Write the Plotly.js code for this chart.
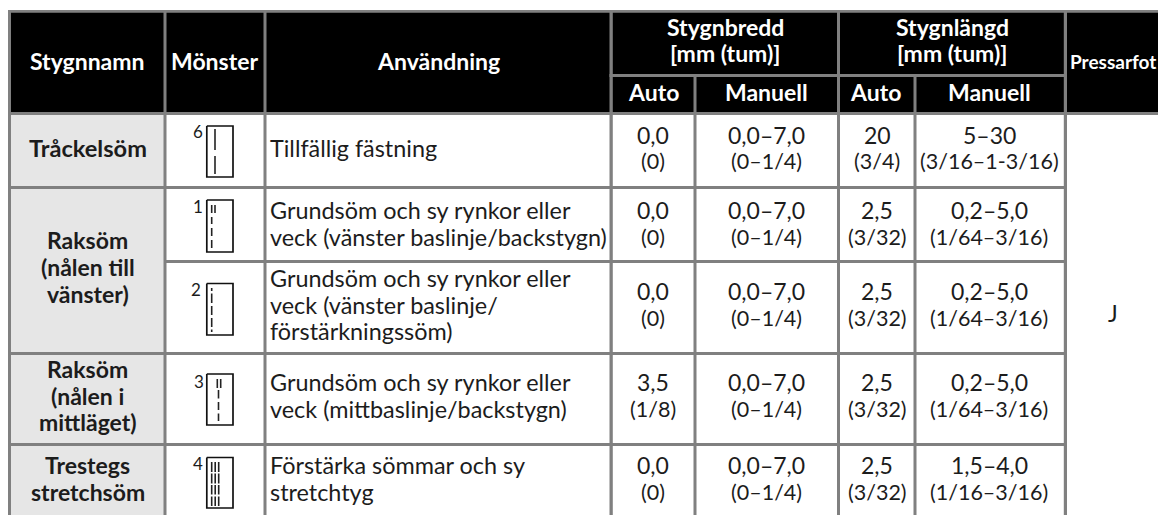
<!DOCTYPE html>
<html><head><meta charset="utf-8">
<script src="https://cdn.plot.ly/plotly-3.0.1.min.js"></script>
<style>html,body{margin:0;padding:0;background:#fff}#c{width:1158px;height:515px}</style>
</head><body><div id="c"></div>
<script>
// ---- table content ----
const headMain = ["Stygnnamn","Mönster","Användning"];
const headWidth = "Stygnbredd\n[mm (tum)]";
const headLength = "Stygnlängd\n[mm (tum)]";
const headSub = ["Auto","Manuell","Auto","Manuell"];
const headFoot = "Pressarfot";
const stitchNames = ["Tråckelsöm","Raksöm\n(nålen till\nvänster)","Raksöm\n(nålen i\nmittläget)","Trestegs\nstretchsöm"];
const patternNums = ["6","1","2","3","4"];
const uses = ["Tillfällig fästning",
 "Grundsöm och sy rynkor eller\nveck (vänster baslinje/backstygn)",
 "Grundsöm och sy rynkor eller\nveck (vänster baslinje/\nförstärkningssöm)",
 "Grundsöm och sy rynkor eller\nveck (mittbaslinje/backstygn)",
 "Förstärka sömmar och sy\nstretchtyg"];
const widthAuto = ["0,0\n(0)","0,0\n(0)","0,0\n(0)","3,5\n(1/8)","0,0\n(0)"];
const widthManual = ["0,0–7,0\n(0–1/4)","0,0–7,0\n(0–1/4)","0,0–7,0\n(0–1/4)","0,0–7,0\n(0–1/4)","0,0–7,0\n(0–1/4)"];
const lengthAuto = ["20\n(3/4)","2,5\n(3/32)","2,5\n(3/32)","2,5\n(3/32)","2,5\n(3/32)"];
const lengthManual = ["5–30\n(3/16–1-3/16)","0,2–5,0\n(1/64–3/16)","0,2–5,0\n(1/64–3/16)","0,2–5,0\n(1/64–3/16)","1,5–4,0\n(1/16–3/16)"];
const footLabel = "J";

// ---- pattern icons: stitch segments [x, y0, y1] in table units ----
const boxTops = [126,200,283.5,374,457.5];
const boxBottoms = [177,252,335,425,508];
const stitches = [
 [[215,129,150],[215,156,174]],
 [[211.7,205,213],[215,205,213],[211.7,217,224],[211.7,228,236],[211.7,240,248]],
 [[211.7,288,291],[211.7,293.5,303],[211.7,306,315],[211.7,318,327],[211.7,329.5,332]],
 [[217.3,379,388],[220.7,379,388],[218.5,390,398.5],[218.5,402,410],[218.5,413.5,421]],
 [[211.7,462,472],[215.2,462,472],[218.7,462,472],[211.7,473.5,483.5],[215.2,473.5,483.5],[218.7,473.5,483.5],
  [211.7,485,494.5],[215.2,485,494.5],[218.7,485,494.5],[211.7,496.5,506],[215.2,496.5,506],[218.7,496.5,506]]
];

// ---- geometry ----
const W=1158,H=515;
const GRAY="#808080",INK="#1c1c1c",FONT="Lato, 'Open Sans', sans-serif";
const vLines=[[8,11],[163.5,166.5],[263.5,266.5],[609.5,612.8],[693.5,696.5],[837,840],[913.5,916.5],[1063.8,1067]];
const rowMid=[148,223.5,304.5,395.5,478.5];
const colX={wa:652.6,wm:766,la:877,lm:989,foot:1113};
const LH=26.6;

const shapes=[],annotations=[];
const rect=(x0,y0,x1,y1,c)=>shapes.push({type:"rect",xref:"x",yref:"y",x0,y0,x1,y1,fillcolor:c,line:{width:0},layer:"below"});
rect(8,115,165,515,"#e6e6e6");
rect(8,10,W,112,"#000");
// header grid
rect(8,10,W,12.7,GRAY);
rect(8,112,W,115,GRAY);
rect(609.5,74,1067,77,GRAY);
vLines.forEach((v,i)=>{
  let top=10,bot=515;
  if(i===4||i===6){top=77;}
  rect(v[0],top,v[1],bot,GRAY);
});
// row rules
rect(8,186,1067,189,GRAY);
rect(165,260,1067,263,GRAY);
rect(8,352,1067,355,GRAY);
rect(8,443,1067,446,GRAY);

function text(x,yc,str,o={}){
  const lines=str.split("\n"),n=lines.length,lh=o.lh||LH;
  lines.forEach((t,i)=>annotations.push({xref:"x",yref:"y",x,y:yc+(i-(n-1)/2)*lh,text:o.bold?"<b>"+t+"</b>":t,showarrow:false,
    xanchor:o.anchor||"center",yanchor:"middle",align:o.anchor==="left"?"left":"center",
    font:{family:o.family||FONT,size:(i===1&&o.size2)||o.size||23,color:o.color||INK},borderpad:0,borderwidth:0}));
}
const WHITE="#fff";
text(87.5,61,headMain[0],{bold:1,color:WHITE});
text(214.8,61,headMain[1],{bold:1,color:WHITE});
text(438,61,headMain[2],{bold:1,color:WHITE});
text(725,40,headWidth,{bold:1,color:WHITE});
text(952,40,headLength,{bold:1,color:WHITE});
[653.4,766.5,875.7,989].forEach((x,i)=>text(x,91.5,headSub[i],{bold:1,color:WHITE}));
text(1113,61,headFoot,{bold:1,color:WHITE,size:19,family:"'Liberation Sans Narrow',Lato,sans-serif"});

text(87.5,148,stitchNames[0],{bold:1,size:23.6});
text(87.5,267,stitchNames[1],{bold:1});
text(87.5,395.5,stitchNames[2],{bold:1});
text(87.5,478.5,stitchNames[3],{bold:1});

const numPos=[[197.7,131],[198,206],[195.8,289],[198.5,381],[198,463]];
patternNums.forEach((n,i)=>text(numPos[i][0],numPos[i][1],n,{size:17}));
uses.forEach((u,i)=>{
  text(270,rowMid[i],u,{anchor:"left",size:23.4});
  const nums={size2:21.5};
  text(colX.wa,rowMid[i],widthAuto[i],nums);
  text(colX.wm,rowMid[i],widthManual[i],nums);
  text(colX.la,rowMid[i],lengthAuto[i],nums);
  text(colX.lm,rowMid[i],lengthManual[i],nums);
});
text(colX.foot,313,footLabel);

// icons as line traces drawn through the axes
const traces=[];
boxTops.forEach((t,i)=>{
  const b=boxBottoms[i];
  traces.push({type:"scatter",mode:"lines",hoverinfo:"skip",showlegend:false,
    x:[206.8,233,233,206.8,206.8],y:[t,t,b,b,t],line:{color:"#111",width:1.7}});
  const xs=[],ys=[];
  stitches[i].forEach(s=>{xs.push(s[0],s[0],null);ys.push(s[1],s[2],null);});
  traces.push({type:"scatter",mode:"lines",hoverinfo:"skip",showlegend:false,
    x:xs,y:ys,line:{color:"#222",width:1.6}});
});

Plotly.newPlot("c",traces,{
  width:W,height:H,margin:{l:0,r:0,t:0,b:0},paper_bgcolor:"#fff",plot_bgcolor:"#fff",showlegend:false,
  xaxis:{range:[0,W],visible:false,fixedrange:true},
  yaxis:{range:[H,0],visible:false,fixedrange:true},
  shapes,annotations
},{displayModeBar:false,staticPlot:true});
</script></body></html>
